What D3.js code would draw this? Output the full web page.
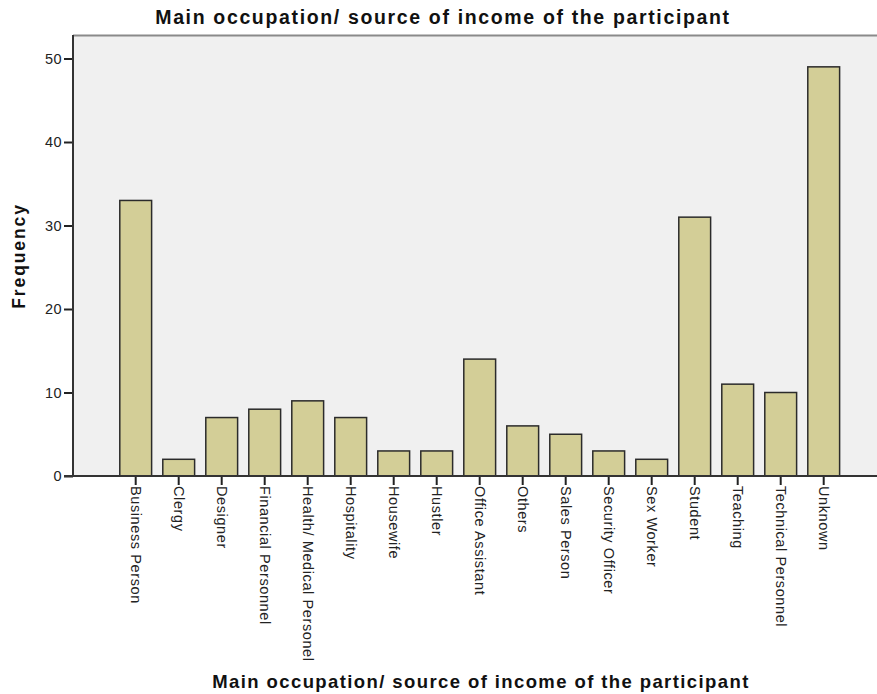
<!DOCTYPE html>
<html>
<head>
<meta charset="utf-8">
<script src="https://cdn.jsdelivr.net/npm/d3@7"></script>
<style>
  html, body { margin: 0; padding: 0; background: #fff; }
  svg { display: block; }
  text { font-family: "Liberation Sans", Arial, sans-serif; }
</style>
</head>
<body>
<div id="chart"></div>
<script>
const categories = ["Business Person", "Clergy", "Designer", "Financial Personnel",
  "Health/ Medical Personel", "Hospitality", "Housewife", "Hustler", "Office Assistant",
  "Others", "Sales Person", "Security Officer", "Sex Worker", "Student", "Teaching",
  "Technical Personnel", "Unknown"];
const frequency = [33, 2, 7, 8, 9, 7, 3, 3, 14, 6, 5, 3, 2, 31, 11, 10, 49];
const yTicks = [0, 10, 20, 30, 40, 50];
const titleText = "Main occupation/ source of income of the participant";
const xTitleText = "Main occupation/ source of income of the participant";
const yTitleText = "Frequency";

const W = 877, H = 694;
const plotLeft = 73, plotTop = 35, plotRight = 877, plotBottom = 476;

const svg = d3.select("#chart").append("svg").attr("width", W).attr("height", H);

const x = d3.scaleBand().domain(categories).range([114.2, 845.2])
  .paddingInner(0.26).paddingOuter(0.13);
const y = d3.scaleLinear().domain([0, 50]).range([plotBottom, 58.5]);

// plot background
svg.append("rect").attr("x", plotLeft).attr("y", plotTop)
  .attr("width", plotRight - plotLeft).attr("height", plotBottom - plotTop)
  .attr("fill", "#f0f0f0");
// top frame line
svg.append("line").attr("x1", plotLeft).attr("x2", plotRight)
  .attr("y1", plotTop + 0.5).attr("y2", plotTop + 0.5)
  .attr("stroke", "#8a8a8a").attr("stroke-width", 2);

// bars
svg.append("g").selectAll("rect").data(categories).join("rect")
  .attr("x", d => x(d))
  .attr("y", (d, i) => y(frequency[i]))
  .attr("width", x.bandwidth())
  .attr("height", (d, i) => y(0) - y(frequency[i]))
  .attr("fill", "#d3ce97")
  .attr("stroke", "#2b2b2b")
  .attr("stroke-width", 1.5);

const tickFont = "'Liberation Sans', Arial, sans-serif";

// y axis
const yAxis = svg.append("g").attr("transform", `translate(${plotLeft},0)`)
  .call(d3.axisLeft(y).tickValues(yTicks).tickSize(9).tickPadding(2).tickSizeOuter(0));
yAxis.select(".domain").remove();
yAxis.append("line").attr("x1", 0).attr("x2", 0).attr("y1", plotTop).attr("y2", plotBottom)
  .attr("stroke", "#333").attr("stroke-width", 2);
yAxis.selectAll(".tick line").attr("stroke", "#222").attr("stroke-width", 2);
yAxis.selectAll(".tick text").attr("font-size", 14.5).attr("fill", "#222")
  .style("font-family", tickFont).style("letter-spacing", "0.4px");

// x axis
const xAxis = svg.append("g").attr("transform", `translate(0,${plotBottom})`)
  .call(d3.axisBottom(x).tickSize(9).tickSizeOuter(0));
xAxis.select(".domain").remove();
xAxis.append("line").attr("x1", plotLeft - 9).attr("x2", plotRight).attr("y1", 0).attr("y2", 0)
  .attr("stroke", "#333").attr("stroke-width", 2);
xAxis.selectAll(".tick line").attr("stroke", "#222").attr("stroke-width", 2);
xAxis.selectAll(".tick text")
  .attr("font-size", 14.5).attr("fill", "#222")
  .style("font-family", tickFont).style("letter-spacing", "0.6px")
  .attr("text-anchor", "start")
  .attr("dy", "0.35em")
  .attr("transform", "translate(0,10) rotate(90)")
  .attr("x", 0).attr("y", 0);

// titles
svg.append("text").attr("x", 443).attr("y", 24).attr("text-anchor", "middle")
  .attr("font-size", 19.5).attr("font-weight", "bold").attr("fill", "#111")
  .style("letter-spacing", "1.65px").text(titleText);
svg.append("text").attr("x", 481).attr("y", 688).attr("text-anchor", "middle")
  .attr("font-size", 18.5).attr("font-weight", "bold").attr("fill", "#111")
  .style("letter-spacing", "1.4px").text(xTitleText);
svg.append("text").attr("transform", "translate(25,256) rotate(-90)").attr("text-anchor", "middle")
  .attr("font-size", 17.5).attr("font-weight", "bold").attr("fill", "#111")
  .style("letter-spacing", "1.9px").text(yTitleText);
</script>
</body>
</html>
